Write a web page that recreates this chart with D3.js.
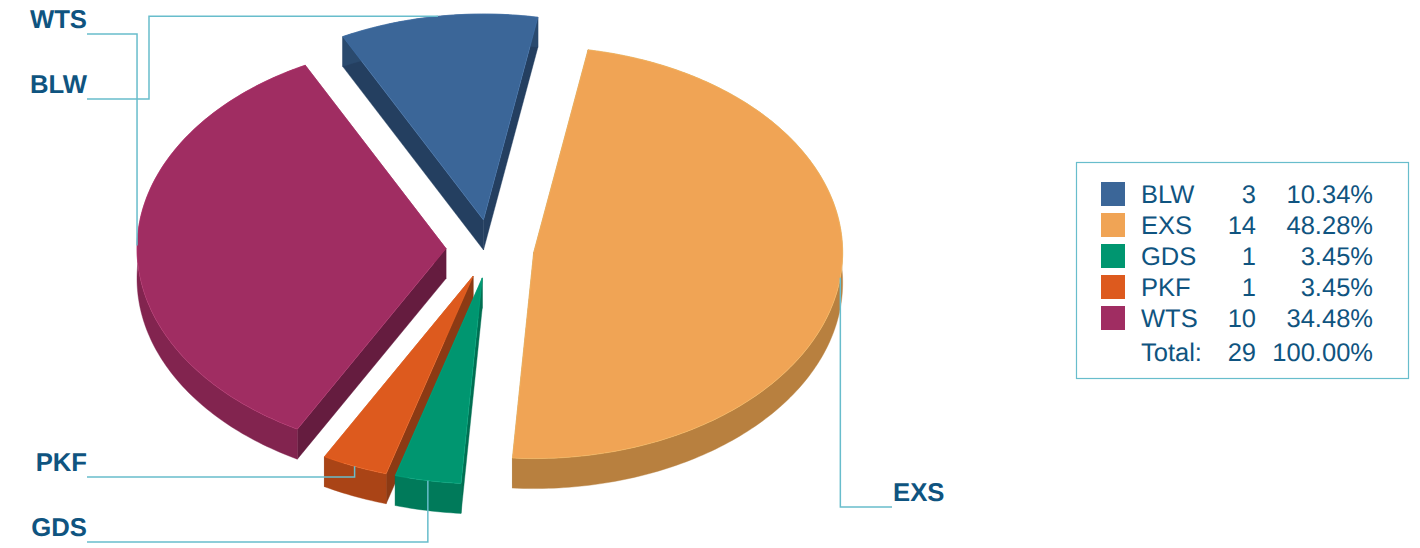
<!DOCTYPE html>
<html>
<head>
<meta charset="utf-8">
<script src="https://cdn.jsdelivr.net/npm/d3@7"></script>
<style>
html,body{margin:0;padding:0;background:#fff;}
svg{display:block;}
text{font-family:"Liberation Sans",Arial,sans-serif;fill:#0f5480;text-rendering:geometricPrecision;}
</style>
</head>
<body>
<svg id="chart" width="1420" height="548"></svg>
<script>
const categories = ["BLW", "EXS", "GDS", "PKF", "WTS"];
const counts = [3, 14, 1, 1, 10];
const percents = ["10.34%", "48.28%", "3.45%", "3.45%", "34.48%"];
const totalCount = 29;
const totalPercent = "100.00%";
const topColors = ["#3b6698", "#f0a455", "#009670", "#dd5a1e", "#a02d62"];
const rimColors = ["#2a4a6e", "#b8803f", "#007a5a", "#aa4416", "#82244f"];
const cutColors = ["#243f60", "#a06e35", "#006f52", "#8c3a14", "#651c3f"];
const drawOrder = ["BLW", "WTS", "EXS", "PKF", "GDS"];

const W = 1420, H = 548;
const cx = 490, cy = 249, rx = 309, ry = 206, depth = 30, explode = 44;
const startDeg = -27.1;
const lineColor = "#68bdcc";

const svg = d3.select("#chart");
const rad = d => d * Math.PI / 180;
const pie = d3.pie().sort(null)
  .startAngle(rad(startDeg)).endAngle(rad(startDeg + 360));
const arcs = pie(counts);
const sx = d3.scaleLinear().domain([-1, 1]).range([-rx, rx]);
const sy = d3.scaleLinear().domain([-1, 1]).range([ry, -ry]);

const apex = a => {
  const m = (a.startAngle + a.endAngle) / 2;
  return [cx + explode / rx * sx(Math.sin(m)), cy + explode / rx * sy(Math.cos(m))];
};
const rimPoint = (o, t, dz = 0) => [o[0] + sx(Math.sin(t)), o[1] + sy(Math.cos(t)) + dz];
const rimPoints = (a, o, dz = 0) => {
  const n = Math.max(8, Math.ceil((a.endAngle - a.startAngle) * 60));
  return d3.range(n + 1).map(i => rimPoint(o, a.startAngle + (a.endAngle - a.startAngle) * i / n, dz));
};
const poly = pts => d3.line()(pts) + "Z";

const gPie = svg.append("g");
drawOrder.forEach(name => {
  const i = categories.indexOf(name);
  const a = arcs[i];
  const o = apex(a);
  const g = gPie.append("g");
  const oLow = [o[0], o[1] + depth];
  [a.startAngle, a.endAngle].forEach(t => {
    g.append("path")
      .attr("d", poly([o, rimPoint(o, t), rimPoint(o, t, depth), oLow]))
      .attr("fill", cutColors[i]).attr("stroke", cutColors[i]).attr("stroke-width", 0.4);
  });
  g.append("path")
    .attr("d", poly(rimPoints(a, o).concat(rimPoints(a, o, depth).reverse())))
    .attr("fill", rimColors[i]).attr("stroke", rimColors[i]).attr("stroke-width", 0.4);
  g.append("path")
    .attr("d", poly([o].concat(rimPoints(a, o))))
    .attr("fill", topColors[i])
    .attr("stroke", d3.color(topColors[i]).brighter(0.5)).attr("stroke-width", 0.5);
});

// Leader lines and labels
const leftLabelX = 87, exsLabelX = 892;
const labelLineY = { WTS: 34, BLW: 99, PKF: 477, GDS: 542, EXS: 507 };
const elbowX = { WTS: 137, BLW: 149 };
const anchor = name => {
  const a = arcs[categories.indexOf(name)];
  return rimPoint(apex(a), (a.startAngle + a.endAngle) / 2);
};
const route = name => {
  const [ax, ay] = anchor(name), ly = labelLineY[name];
  if (name === "WTS") return [[leftLabelX, ly], [ax, ly], [ax, ay]];
  if (name === "BLW") return [[leftLabelX, ly], [elbowX.BLW, ly], [elbowX.BLW, ay], [ax, ay]];
  if (name === "EXS") return [[ax, ay], [ax, ly], [exsLabelX, ly]];
  return [[leftLabelX, ly], [ax, ly], [ax, ay]];
};
categories.forEach(name => {
  svg.append("path").attr("d", d3.line()(route(name)))
    .attr("fill", "none").attr("stroke", lineColor).attr("stroke-width", 1.5);
  const isRight = name === "EXS";
  svg.append("text")
    .attr("x", isRight ? exsLabelX + 1 : leftLabelX)
    .attr("y", labelLineY[name] - 6.5)
    .attr("text-anchor", isRight ? "start" : "end")
    .attr("font-size", 25.7).attr("font-weight", "bold")
    .text(name);
});

// Legend
const box = { x: 1076.5, y: 162.5, w: 332, h: 216 };
svg.append("rect").attr("x", box.x).attr("y", box.y).attr("width", box.w).attr("height", box.h)
  .attr("fill", "#fff").attr("stroke", lineColor).attr("stroke-width", 1.2);
const rowY = d3.scalePoint().domain(categories).range([203, 327]);
const colName = 1141, colCount = 1256, colPct = 1373;
const fs = 25.5;
categories.forEach((name, i) => {
  const y = rowY(name);
  svg.append("rect").attr("x", 1101).attr("y", y - 21).attr("width", 24).attr("height", 24).attr("fill", topColors[i]);
  svg.append("text").attr("x", colName).attr("y", y).attr("font-size", fs).text(name);
  svg.append("text").attr("x", colCount).attr("y", y).attr("font-size", fs).attr("text-anchor", "end").text(counts[i]);
  svg.append("text").attr("x", colPct).attr("y", y).attr("font-size", fs).attr("text-anchor", "end").text(percents[i]);
});
const ty = 361;
svg.append("text").attr("x", colName).attr("y", ty).attr("font-size", fs).text("Total:");
svg.append("text").attr("x", colCount).attr("y", ty).attr("font-size", fs).attr("text-anchor", "end").text(totalCount);
svg.append("text").attr("x", colPct).attr("y", ty).attr("font-size", fs).attr("text-anchor", "end").text(totalPercent);
</script>
</body>
</html>
